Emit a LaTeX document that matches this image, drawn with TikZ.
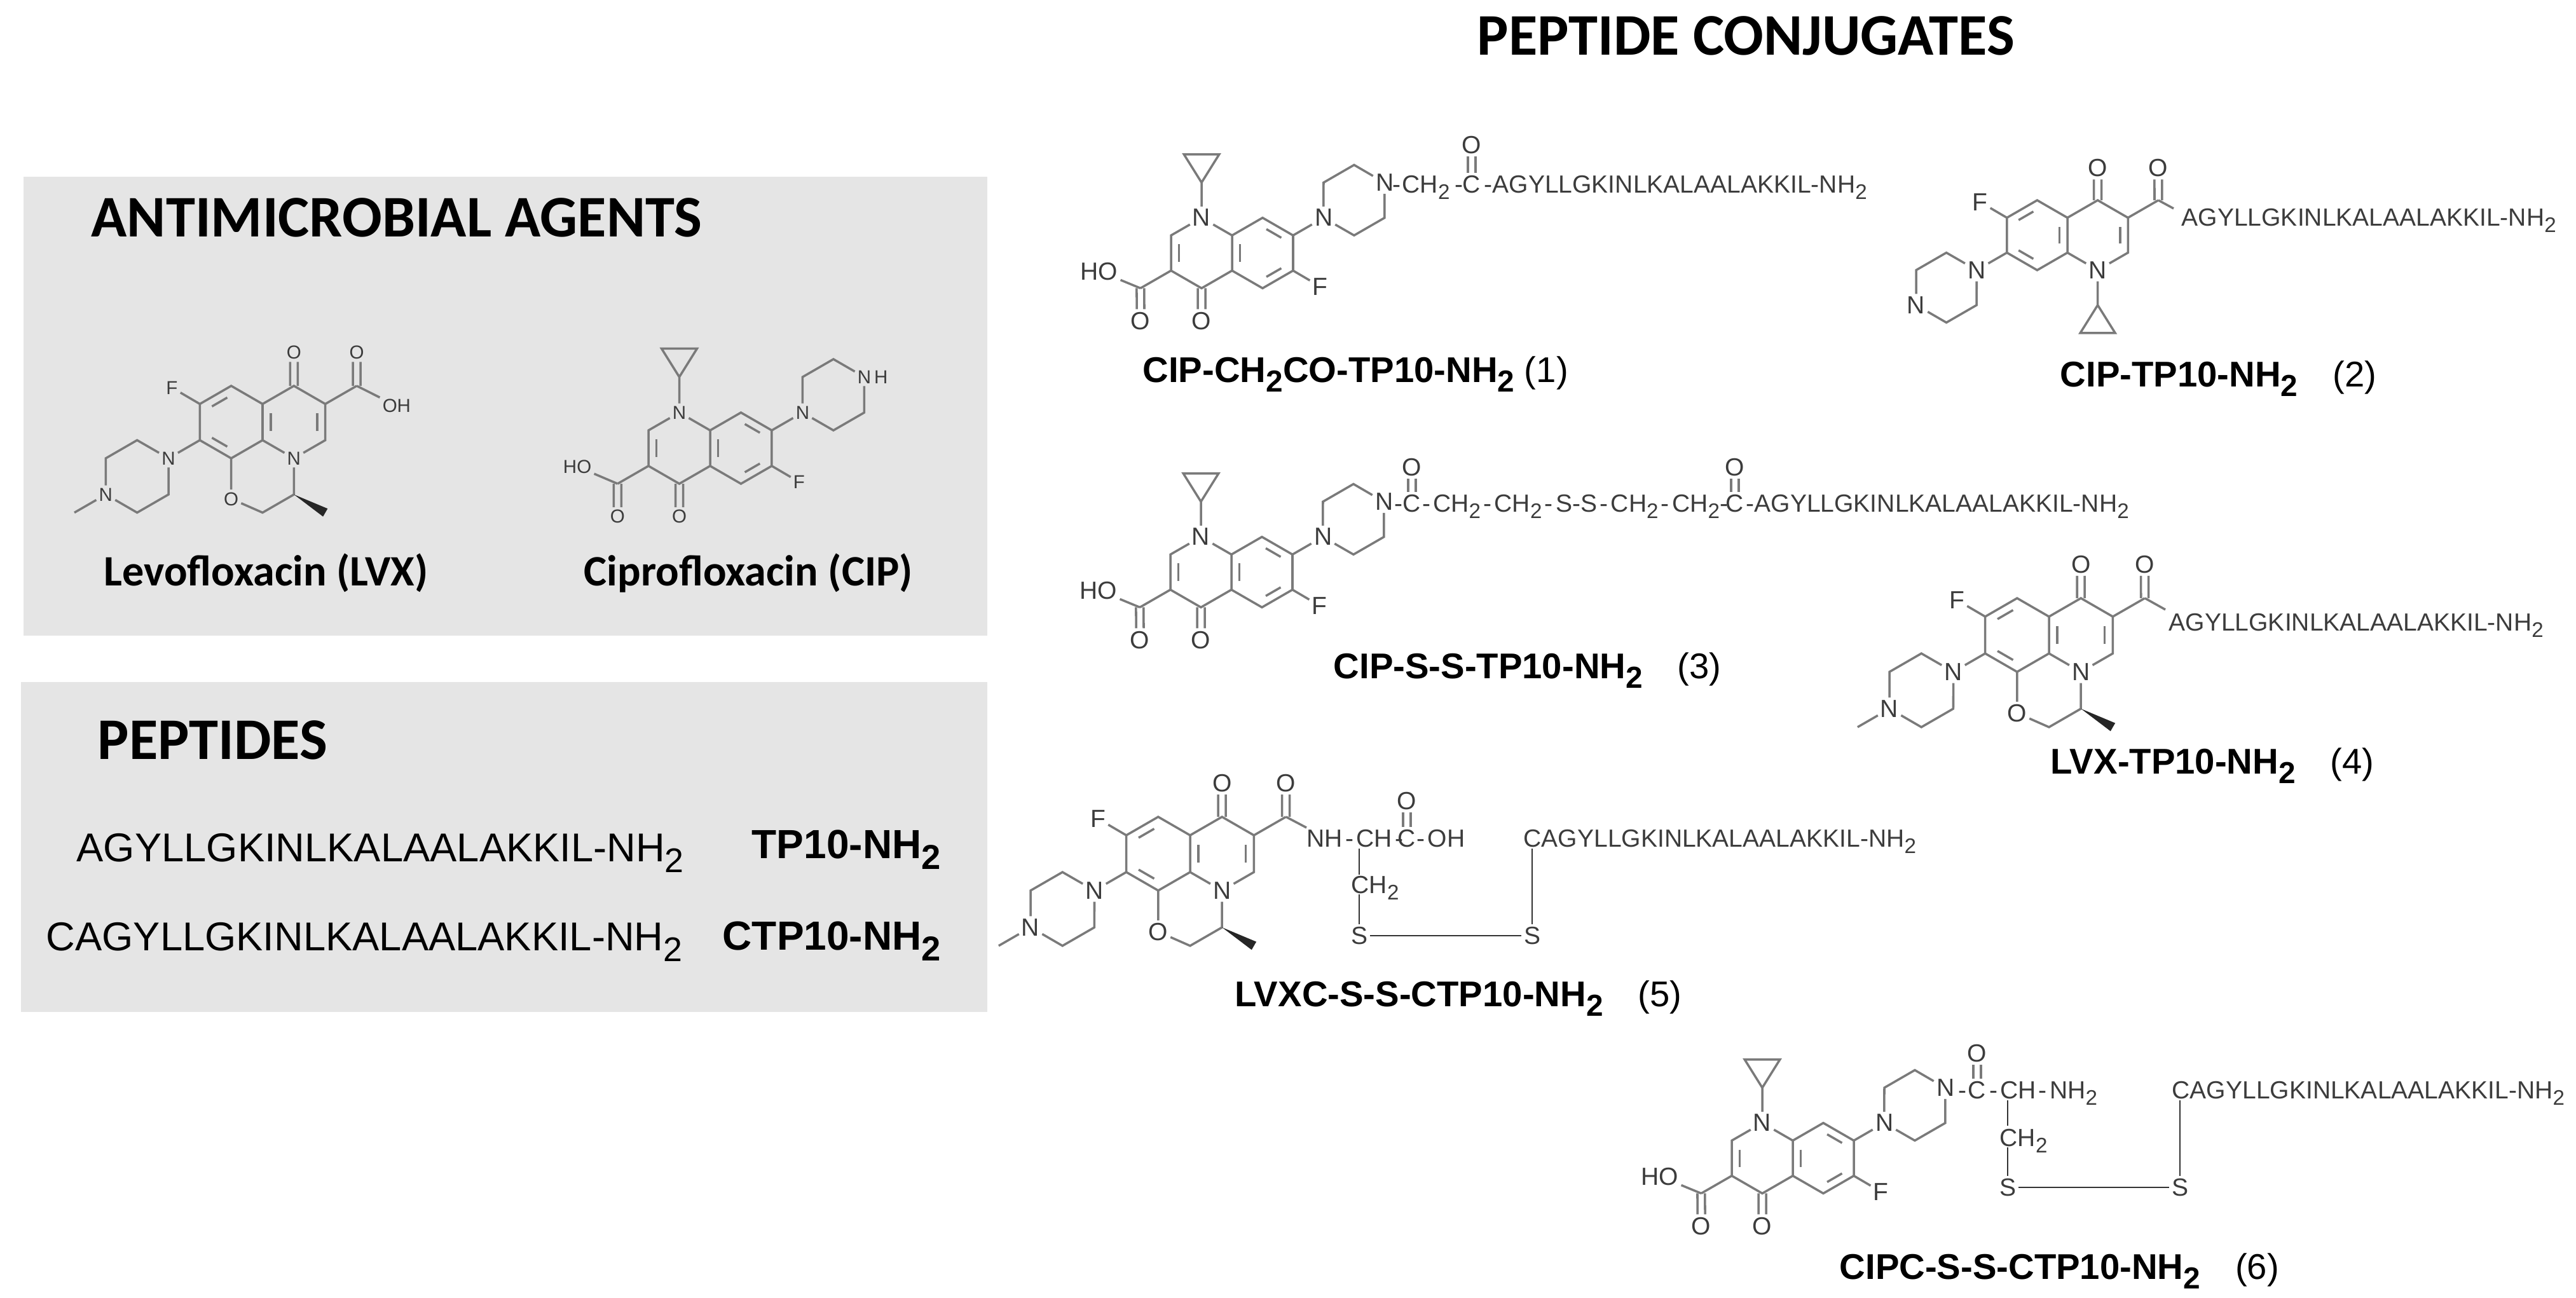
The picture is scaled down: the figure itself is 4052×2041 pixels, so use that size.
\documentclass[tikz,border=0pt]{standalone}
\usepackage{fontspec}
\usepackage{graphicx}
\setmainfont{Liberation Sans}
\newfontfamily\calibrifont{Carlito}
\usetikzlibrary{calc}
\usetikzlibrary{positioning}
\definecolor{boxGray}{HTML}{E5E5E5}
\definecolor{bondGray}{HTML}{7A7A7A}
\definecolor{atomGray}{HTML}{3C3C3C}
\newcommand{\lowtwo}{\raisebox{-.28em}{\scalebox{.85}{2}}}
\newcommand{\dsh}{\kern.11em-\kern.11em}
\newcommand{\numgap}{\ \ \kern.42em\mdseries}
\newcommand{\seqtext}{AGYLLGKINLKALAALAKKIL-NH\lowtwo}
\tikzset{
	bond/.style={draw=bondGray, line width=1pt},
	link/.style={draw=black!80, line width=.7pt},
	atom/.style={inner sep=1pt, text=atomGray, font=\fontsize{11.1}{13}\selectfont},
	atomsmall/.style={atom/.append style={font=\fontsize{8.4}{10}\selectfont}},
	chain/.style={atom, inner sep=0pt, anchor=base west},
	greybox/.style={fill=boxGray, draw=none},
	heading/.style={inner sep=0pt, anchor=base west, font=\calibrifont\bfseries\fontsize{26.4}{31}\selectfont},
	druglabel/.style={inner sep=0pt, anchor=base west, font=\calibrifont\bfseries\fontsize{19.4}{23}\selectfont},
	conjlabel/.style={inner sep=0pt, anchor=base west, font=\bfseries\fontsize{16}{19}\selectfont},
	peplabel/.style={inner sep=0pt, anchor=base west, font=\fontsize{18}{21}\selectfont},
	pepname/.style={inner sep=0pt, anchor=base west, font=\bfseries\fontsize{18.2}{21}\selectfont},
	mol/.style n args={3}{shift={(#1)}, scale=#2, rotate=#3},
}
\newcommand{\innerbond}[3]{\draw[bond] ($($(#1)!.17!(#2)$)!.26!(#3)$) -- ($($(#2)!.17!(#1)$)!.26!(#3)$);}
\newcommand{\twolines}[2]{
	\draw[bond, transform canvas={xshift=1.7pt}] (#1) -- (#2);
	\draw[bond, transform canvas={xshift=-1.7pt}] (#1) -- (#2);
}
% the two rings, the acid carbon and the piperazine; #1 far N text, #2 ring of the inner line
\newcommand{\quinocore}[2]{
	\coordinate (benz) at (.866,0);
	\coordinate (pyr) at (-.866,0);
	\coordinate (c8a) at (0,-.5);
	\coordinate (c4a) at (0,.5);
	\coordinate (c8) at (.866,-1);
	\coordinate (c7) at (1.732,-.5);
	\coordinate (c6) at (1.732,.5);
	\coordinate (c5) at (.866,1);
	\coordinate (c2) at (-1.732,-.5);
	\coordinate (c3) at (-1.732,.5);
	\coordinate (c4) at (-.866,1);
	\coordinate (cc) at (-2.6,1);
	\coordinate (p2) at (3.464,-.5);
	\coordinate (p3) at (4.33,-1);
	\coordinate (p5) at (3.464,-2.5);
	\coordinate (p6) at (2.598,-2);
	\node[atom] (n1) at (-.866,-1) {N};
	\node[atom] (o4) at (-.866,1.92) {O};
	\node[atom] (oc) at (-2.6,1.92) {O};
	\node[atom] (f) at (2.5,.95) {F};
	\node[atom] (np) at (2.598,-1) {N};
	\node[atom] (n4) at (4.33,-2) {#1};
	\draw[bond] (n1) -- (c2) -- (c3) -- (c4) -- (c4a) -- (c8a) -- (n1) (c8a) -- (c8) -- (c7) -- (c6) -- (c5) -- (c4a) (c3) -- (cc) (c6) -- (f) (c7) -- (np) -- (p2) -- (p3) -- (n4) -- (p5) -- (p6) -- (np);
	\twolines{c4}{o4}
	\twolines{cc}{oc}
	\innerbond{c2}{c3}{pyr}
	\innerbond{c8}{c7}{benz}
	\innerbond{c6}{c5}{benz}
	\innerbond{c8a}{c4a}{#2}
}
\newcommand{\cyclopropyl}{
	\coordinate (cp1) at (-.866,-2);
	\coordinate (cp2) at (-1.366,-2.8);
	\coordinate (cp3) at (-.366,-2.8);
	\draw[bond] (n1) -- (cp1) -- (cp2) -- (cp3) -- (cp1);
}
\newcommand{\oxazine}{
	\node[atom] (oxa) at (.866,-2.12) {O};
	\coordinate (ch2) at (0,-2.5);
	\coordinate (chx) at (-.866,-2);
	\coordinate (w1) at (-1.67,-2.61);
	\coordinate (w2) at (-1.797,-2.39);
	\coordinate (nme) at (5.196,-2.5);
	\draw[bond] (c8) -- (oxa) -- (ch2) -- (chx) -- (n1) (n4) -- (nme);
	\fill[black!85] (chx) -- (w1) -- (w2) -- cycle;
}
\begin{document}
\begin{tikzpicture}[x=.01cm,y=-.01cm]
	\useasboundingbox (0,0) rectangle (4052,2041);
	% grey panels
	\fill[greybox] (37,278) rectangle (1553,1000);
	\fill[greybox] (33,1073) rectangle (1553,1592);
	% headings
	\node[heading] (titleConj) at (2323,86) {PEPTIDE CONJUGATES};
	\node[heading] (titleAgents) at (143,372) {ANTIMICROBIAL AGENTS};
	\node[heading] (titlePept) at (153,1194) {PEPTIDES};
	% free drugs
	\begin{scope}[mol={413,664}{57}{180}, name prefix=lvx-, atomsmall]
		\quinocore{N}{pyr}
		\oxazine
		\node[atom] (oh) at (-3.7,.45) {OH};
		\draw[bond] (cc) -- (oh);
	\end{scope}
	\begin{scope}[mol={1117,705}{56}{0}, name prefix=cip-, atomsmall]
		\quinocore{N}{benz}
		\cyclopropyl
		\node[atom] (ho) at (-3.73,.52) {HO};
		\draw[bond] (cc) -- (ho);
	\end{scope}
	\node[atom, font=\fontsize{8.4}{10}\selectfont, inner sep=0pt, right=0pt of cip-n4] (cip-h) {H};
	\node[druglabel] (nameLvx) at (163,921) {Levofloxacin (LVX)};
	\node[druglabel] (nameCip) at (918,921) {Ciprofloxacin (CIP)};
	% peptides
	\node[peplabel] (seqTp) at (120,1355) {\seqtext};
	\node[pepname] (nameTp) at (1182,1350) {TP10-NH\lowtwo};
	\node[peplabel] (seqCtp) at (72,1495) {C\seqtext};
	\node[pepname] (nameCtp) at (1136,1494) {CTP10-NH\lowtwo};
	% conjugate 1
	\begin{scope}[mol={1938,398}{55.5}{0}, name prefix=m1-]
		\quinocore{N}{benz}
		\cyclopropyl
		\node[atom] (ho) at (-3.77,.52) {HO};
		\draw[bond] (cc) -- (ho);
	\end{scope}
	\node[chain] (m1-ch) at (2190,303) {-\kern.05em CH\lowtwo\kern.2em-};
	\node[atom, anchor=base] (m1-c) at (2315,303) {C};
	\node[atom] (m1-o) at (2315,228) {O};
	\node[chain] (m1-seq) at (2334,303) {-\seqtext};
	\twolines{m1-c}{m1-o}
	\node[conjlabel] (name1) at (1797,601) {CIP-CH\lowtwo CO-TP10-NH\lowtwo\ \mdseries(1)};
	% conjugate 2
	\begin{scope}[mol={3252,370}{55}{180}, name prefix=m2-]
		\quinocore{N}{benz}
		\cyclopropyl
	\end{scope}
	\node[chain] (m2-seq) at (3431,355) {\seqtext};
	\coordinate (m2-end) at (3419,328);
	\draw[bond] (m2-cc) -- (m2-end);
	\node[conjlabel] (name2) at (3240,608) {CIP-TP10-NH\lowtwo\numgap(2)};
	% conjugate 3
	\begin{scope}[mol={1937,900}{55.5}{0}, name prefix=m3-]
		\quinocore{N}{benz}
		\cyclopropyl
		\node[atom] (ho) at (-3.77,.52) {HO};
		\draw[bond] (cc) -- (ho);
	\end{scope}
	\node[chain] (m3-d) at (2193,805) {-};
	\node[atom, anchor=base] (m3-c1) at (2221,805) {C};
	\node[atom] (m3-o1) at (2221,735) {O};
	\node[chain] (m3-chain) at (2232,805) {\dsh CH\lowtwo\dsh CH\lowtwo\dsh S-S\dsh CH\lowtwo\dsh CH\lowtwo-};
	\node[atom, anchor=base] (m3-c2) at (2729,805) {C};
	\node[atom] (m3-o2) at (2729,735) {O};
	\node[chain] (m3-seq) at (2746,805) {-\seqtext};
	\twolines{m3-c1}{m3-o1}
	\twolines{m3-c2}{m3-o2}
	\node[conjlabel] (name3) at (2097,1067) {CIP-S-S-TP10-NH\lowtwo\numgap(3)};
	% conjugate 4
	\begin{scope}[mol={3223,999}{58}{180}, name prefix=m4-]
		\quinocore{N}{pyr}
		\oxazine
	\end{scope}
	\node[chain] (m4-seq) at (3411,992) {\seqtext};
	\coordinate (m4-end) at (3406,959);
	\draw[bond] (m4-cc) -- (m4-end);
	\node[conjlabel] (name4) at (3225,1217) {LVX-TP10-NH\lowtwo\numgap(4)};
	% conjugate 5
	\begin{scope}[mol={1872,1343}{58}{180}, name prefix=m5-]
		\quinocore{N}{pyr}
		\oxazine
	\end{scope}
	\node[chain] (m5-nh) at (2055,1332) {NH\dsh CH\dsh};
	\node[atom, anchor=base] (m5-c) at (2213,1332) {C};
	\node[atom] (m5-o) at (2213,1260) {O};
	\node[chain] (m5-oh) at (2228,1332) {-\kern.1em OH};
	\node[chain] (m5-ch2) at (2125,1405) {CH\lowtwo};
	\node[atom] (m5-s1) at (2138,1472) {S};
	\node[atom] (m5-s2) at (2410,1472) {S};
	\node[chain] (m5-seq) at (2396,1332) {C\seqtext};
	\coordinate (m5-end) at (2055,1302);
	\coordinate (m5-a) at (2138,1335);
	\coordinate (m5-b) at (2138,1376);
	\coordinate (m5-c2) at (2138,1407);
	\coordinate (m5-d) at (2410,1335);
	\twolines{m5-c}{m5-o}
	\draw[bond] (m5-cc) -- (m5-end);
	\draw[link] (m5-a) -- (m5-b) (m5-c2) -- (m5-s1) -- (m5-s2) (m5-d) -- (m5-s2);
	\node[conjlabel] (name5) at (1942,1583) {LVXC-S-S-CTP10-NH\lowtwo\numgap(5)};
	% conjugate 6
	\begin{scope}[mol={2820,1822}{55.5}{0}, name prefix=m6-]
		\quinocore{N}{benz}
		\cyclopropyl
		\node[atom] (ho) at (-3.77,.52) {HO};
		\draw[bond] (cc) -- (ho);
	\end{scope}
	\node[chain] (m6-d) at (3080,1728) {-};
	\node[atom, anchor=base] (m6-c) at (3110,1728) {C};
	\node[atom] (m6-o) at (3110,1657) {O};
	\node[chain] (m6-ch) at (3124,1728) {\dsh CH\dsh NH\lowtwo};
	\node[chain] (m6-ch2) at (3145,1803) {CH\lowtwo};
	\node[atom] (m6-s1) at (3158,1868) {S};
	\node[atom] (m6-s2) at (3429,1868) {S};
	\node[chain] (m6-seq) at (3416,1728) {C\seqtext};
	\coordinate (m6-a) at (3158,1731);
	\coordinate (m6-b) at (3158,1771);
	\coordinate (m6-c2) at (3158,1805);
	\coordinate (m6-e) at (3429,1731);
	\twolines{m6-c}{m6-o}
	\draw[link] (m6-a) -- (m6-b) (m6-c2) -- (m6-s1) -- (m6-s2) (m6-e) -- (m6-s2);
	\node[conjlabel] (name6) at (2893,2012) {CIPC-S-S-CTP10-NH\lowtwo\numgap(6)};
\end{tikzpicture}
\end{document}
